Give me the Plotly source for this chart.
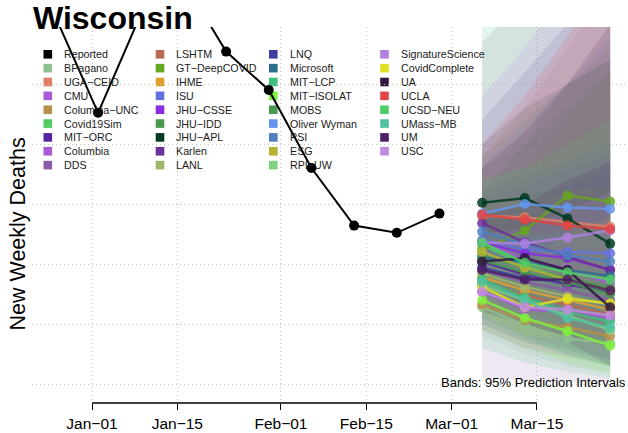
import plotly.graph_objects as go

# ---- data -------------------------------------------------------------
STATE = "Wisconsin"

REPORT_DATES = ["2020-12-26", "2021-01-02", "2021-01-09", "2021-01-16", "2021-01-23",
                "2021-01-30", "2021-02-06", "2021-02-13", "2021-02-20", "2021-02-27"]
REPORTED = [306, 226, 308, 336, 277, 245, 180, 132, 126, 142]

FORECAST_DATES = ["2021-03-06", "2021-03-13", "2021-03-20", "2021-03-27"]

MODELS = ["BPagano", "UGA−CEID", "CMU", "Columbia−UNC", "Covid19Sim", "MIT−ORC", "Columbia", "DDS",
          "LSHTM", "GT−DeepCOVID", "IHME", "ISU", "JHU−CSSE", "JHU−IDD", "JHU−APL", "Karlen", "LANL",
          "LNQ", "Microsoft", "MIT−LCP", "MIT−ISOLAT", "MOBS", "Oliver Wyman", "PSI", "ESG", "RPI−UW",
          "SignatureScience", "CovidComplete", "UA", "UCLA", "UCSD−NEU", "UMass−MB", "UM", "USC"]

COLORS = ["#8fc08f", "#e07e66", "#a65ad8", "#b8904a", "#50cc60", "#5424a0", "#a65ad8", "#8a5aa6",
          "#b86a56", "#66a61e", "#e0a030", "#6470e0", "#8a2be2", "#46994e", "#003a20", "#6b3096", "#a0b468",
          "#3e3e9e", "#2b6f8c", "#3cc07a", "#80f03c", "#46994e", "#6495ed", "#4f7fc0", "#b4b432", "#80d080",
          "#b080e0", "#e0e020", "#30183e", "#e04444", "#50cc66", "#50c0a0", "#4a1f64", "#c08ae0"]

# point forecasts, one row per model, four weekly horizons
POINTS = [
    [64, 49, 38, 34], [140, 139, 135, 131], [118, 104, 96, 84], [66, 53, 47, 40],
    [116, 99, 87, 78], [102, 91, 83, 77], [77, 62, 60, 55], [95, 85, 78, 70],
    [84, 74, 66, 58], [112, 128, 157, 152], [89, 78, 70, 62], [120, 112, 110, 109],
    [118, 109, 105, 95], [107, 97, 88, 80], [151, 155, 138, 117], [134, 118, 106, 95],
    [92, 81, 73, 66], [97, 88, 85, 78], [105, 102, 95, 90], [87, 72, 60, 52],
    [70, 55, 44, 32], [103, 93, 85, 75], [142, 150, 147, 146], [127, 116, 107, 102],
    [110, 97, 87, 78], [82, 70, 57, 45], [118, 117, 122, 128], [81, 64, 71, 67],
    [102, 105, 95, 64], [141, 137, 132, 129], [118, 101, 93, 87], [85, 70, 55, 47],
    [95, 87, 87, 78], [77, 64, 62, 57],
]

# 95% prediction interval bounds
LOWER = [
    [40, 25, 15, 10], [105, 90, 75, 62], [85, 65, 50, 38], [45, 30, 22, 15],
    [90, 70, 55, 45], [80, 68, 58, 50], [50, 35, 28, 20], [5, 3, 2, 1],
    [55, 40, 30, 22], [75, 70, 75, 60], [75, 62, 52, 44], [95, 80, 70, 62],
    [88, 72, 60, 48], [60, 40, 28, 20], [110, 100, 80, 60], [100, 80, 65, 52],
    [65, 50, 38, 30], [70, 55, 45, 35], [75, 60, 48, 38], [30, 18, 10, 5],
    [45, 30, 18, 8], [50, 35, 25, 15], [110, 105, 95, 85], [95, 75, 60, 48],
    [78, 60, 46, 35], [55, 38, 25, 15], [70, 55, 45, 40], [58, 40, 38, 30],
    [60, 50, 35, 15], [115, 100, 88, 78], [80, 55, 40, 30], [55, 38, 24, 15],
    [62, 48, 40, 30], [45, 30, 24, 18],
]
UPPER = [
    [95, 85, 80, 78], [190, 230, 280, 330], [160, 170, 185, 200], [95, 90, 92, 95],
    [145, 135, 130, 128], [128, 120, 115, 112], [115, 110, 118, 125], [285, 320, 350, 380],
    [150, 180, 220, 260], [160, 200, 250, 280], [105, 96, 90, 84], [150, 155, 165, 178],
    [155, 165, 180, 190], [190, 220, 250, 270], [200, 230, 250, 270], [220, 260, 300, 340],
    [125, 125, 130, 135], [130, 140, 155, 165], [140, 155, 165, 180], [310, 330, 350, 370],
    [105, 100, 95, 90], [180, 200, 230, 260], [185, 215, 250, 290], [165, 175, 185, 200],
    [150, 155, 160, 165], [118, 115, 112, 110], [240, 280, 330, 380], [110, 100, 125, 140],
    [180, 210, 250, 300], [200, 240, 290, 340], [170, 180, 200, 220], [125, 125, 125, 130],
    [140, 150, 170, 185], [125, 130, 145, 160],
]

GRID_VALUES = [0, 50, 100, 150, 200, 250]
TICK_DATES = ["2021-01-01", "2021-01-15", "2021-02-01", "2021-02-15", "2021-03-01", "2021-03-15"]
TICK_TEXT = ["Jan−01", "Jan−15", "Feb−01", "Feb−15", "Mar−01", "Mar−15"]

# ---- layout geometry (pixels) ----------------------------------------
W, H = 628, 433
ML, MR, MT, MB = 32, 0, 27, 30
PW, PH = W - ML - MR, H - MT - MB
FONT = "Liberation Sans, Arial, Helvetica, sans-serif"
BAND_ALPHA = 0.14


def px_x(px):
    return (px - ML) / PW


def px_y(py):
    return (H - MB - py) / PH


def rgba(hex_color, alpha):
    h = hex_color.lstrip("#")
    r, g, b = int(h[0:2], 16), int(h[2:4], 16), int(h[4:6], 16)
    return f"rgba({r},{g},{b},{alpha})"


fig = go.Figure()

# prediction-interval bands
for name, col, lo, hi in zip(MODELS, COLORS, LOWER, UPPER):
    fig.add_trace(go.Scatter(
        x=FORECAST_DATES + FORECAST_DATES[::-1],
        y=hi + lo[::-1],
        fill="toself", fillcolor=rgba(col, BAND_ALPHA),
        line=dict(width=0), mode="lines",
        hoverinfo="skip", showlegend=False,
    ))

# reported weekly deaths
fig.add_trace(go.Scatter(
    x=REPORT_DATES, y=REPORTED, mode="lines+markers",
    line=dict(color="black", width=2), marker=dict(color="black", size=10),
    name="Reported", showlegend=False,
))

# point forecasts
for name, col, pts in zip(MODELS, COLORS, POINTS):
    fig.add_trace(go.Scatter(
        x=FORECAST_DATES, y=pts, mode="lines+markers",
        line=dict(color=rgba(col, 0.85), width=2.5),
        marker=dict(color=rgba(col, 0.85), size=10),
        name=name, showlegend=False,
    ))

# x axis line from the first to the last tick
shapes = [dict(type="line", xref="x", yref="paper",
               x0=TICK_DATES[0], x1=TICK_DATES[-1], y0=0, y1=0,
               line=dict(color="black", width=1.3))]
annotations = []

# legend: four columns, nine rows
legend_names = ["Reported"] + MODELS
legend_colors = ["#000000"] + COLORS
COL_X = [47.8, 160.0, 273.3, 384.5]
ROW0, ROW_STEP, SQ = 54.3, 13.85, 8.6
for i, (name, col) in enumerate(zip(legend_names, legend_colors)):
    c, r = divmod(i, 9)
    cx, cy = COL_X[c], ROW0 + r * ROW_STEP
    shapes.append(dict(type="rect", xref="paper", yref="paper", layer="between",
                       x0=px_x(cx - SQ / 2), x1=px_x(cx + SQ / 2),
                       y0=px_y(cy + SQ / 2), y1=px_y(cy - SQ / 2),
                       fillcolor=col, line=dict(width=0)))
    annotations.append(dict(xref="paper", yref="paper", x=px_x(cx + 14.3), y=px_y(cy),
                            xanchor="left", yanchor="middle", showarrow=False,
                            text=name, font=dict(family=FONT, size=10.7, color="#1a1a1a")))

annotations.append(dict(xref="paper", yref="paper", x=px_x(18), y=px_y(234.5),
                        text="New Weekly Deaths", textangle=-90, showarrow=False,
                        xanchor="center", yanchor="middle",
                        font=dict(family=FONT, size=21.5, color="black")))
annotations.append(dict(xref="paper", yref="paper", x=px_x(627.5), y=px_y(382),
                        text="Bands: 95% Prediction Intervals", showarrow=False,
                        xanchor="right", yanchor="middle",
                        font=dict(family=FONT, size=13, color="black")))

fig.update_layout(
    width=W, height=H,
    margin=dict(l=ML, r=MR, t=MT, b=MB),
    paper_bgcolor="white", plot_bgcolor="white",
    showlegend=False,
    title=dict(text=f"<b>{STATE}</b>", xref="container", yref="container",
               x=33 / W, xanchor="left", y=1 - 18 / H, yanchor="middle",
               font=dict(family=FONT, size=32, color="black")),
    shapes=shapes, annotations=annotations,
)

fig.update_xaxes(
    type="date",
    range=["2020-12-22 03:46", "2021-03-29 22:19"],
    tickvals=TICK_DATES, ticktext=TICK_TEXT,
    ticks="outside", ticklen=6, tickwidth=1.3, tickcolor="black",
    tickfont=dict(family=FONT, size=15.5, color="black"),
    showgrid=True, gridcolor="#c4c4c4", griddash="1px,3px", gridwidth=1,
    showline=False, zeroline=False,
)
fig.update_yaxes(
    range=[-15.83, 297.5],
    tickvals=GRID_VALUES, showticklabels=False, ticks="",
    showgrid=True, gridcolor="#c4c4c4", griddash="1px,3px", gridwidth=1,
    showline=False, zeroline=False,
)

fig.write_html("out.html")
